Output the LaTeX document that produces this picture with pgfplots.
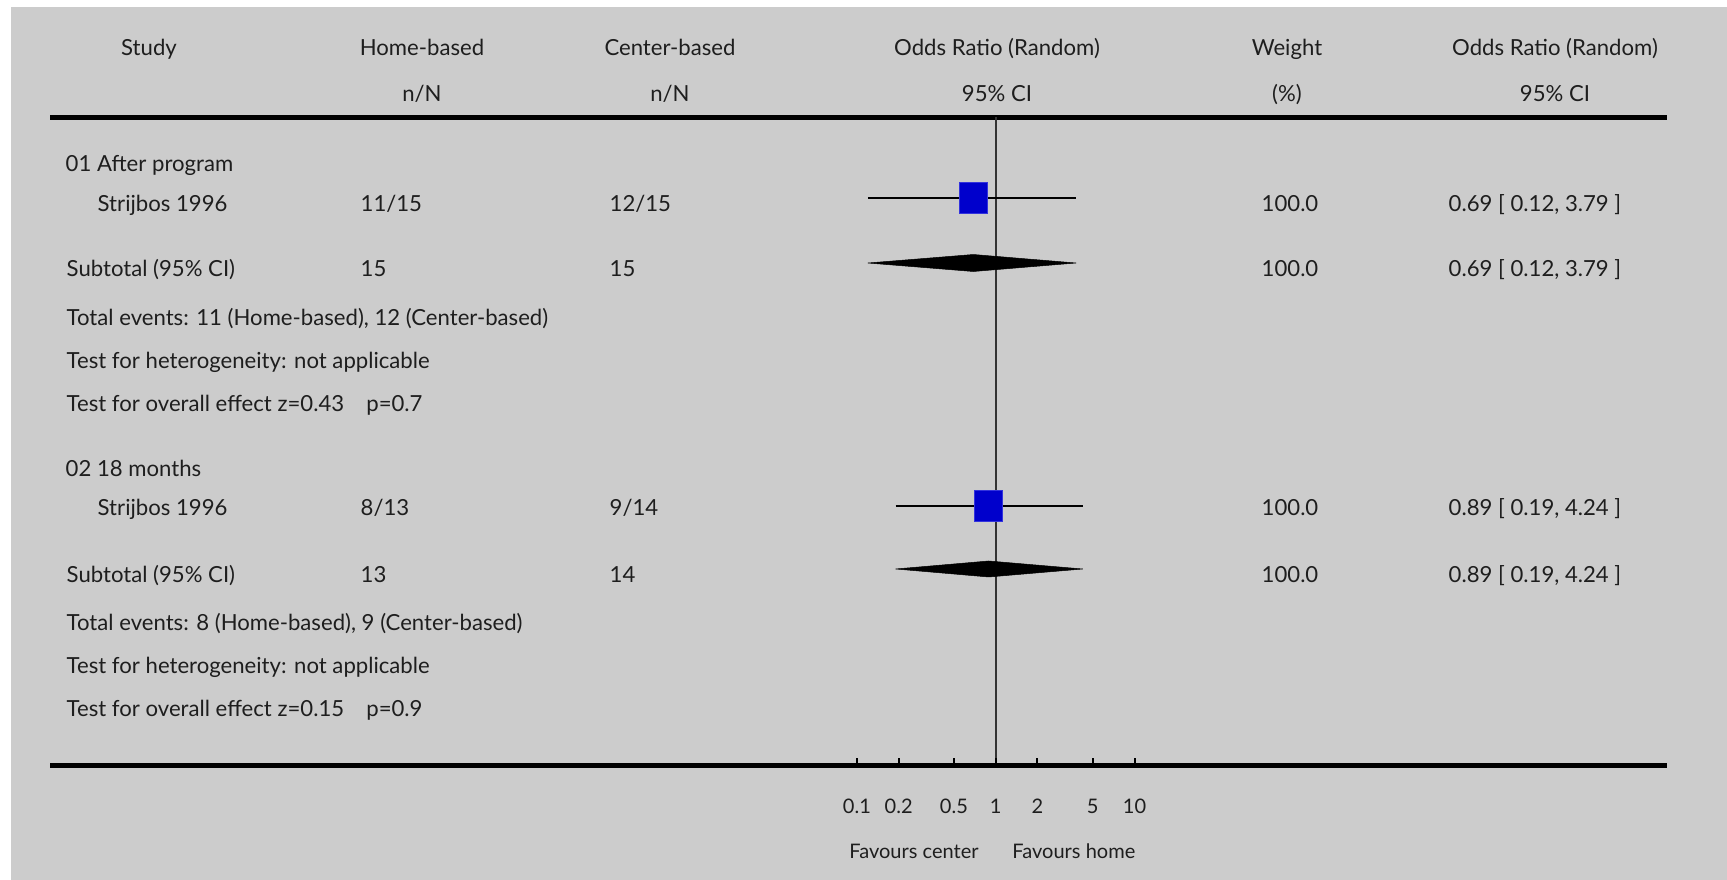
\documentclass[border=0pt]{standalone}
\usepackage{fontspec}
\setmainfont{Lato}
\usepackage{pgfplots}
\pgfplotsset{compat=1.18}
\definecolor{bg}{HTML}{CCCCCC}
\definecolor{sq}{HTML}{0000CC}
\definecolor{sqb}{HTML}{3333DD}
\definecolor{txt}{HTML}{1E1E1E}
\begin{document}
\begin{tikzpicture}[every node/.style={font=\fontsize{6.3pt}{7.5pt}\selectfont, text=txt, inner sep=0pt}]
% ---------- table axis in pixel units ----------
\begin{axis}[at={(0,0)}, anchor=south west, scale only axis,
  width=172.7mm, height=88mm, xmin=0, xmax=1727, ymin=0, ymax=880,
  y dir=reverse, hide axis, clip=false]
\fill[white] (axis cs:0,0) rectangle (axis cs:1727,880);
\fill[bg] (axis cs:11,7) rectangle (axis cs:1727,880);
\addplot[black, line width=0.5mm] coordinates {(50,117) (1667,117)};
\addplot[black, line width=0.5mm] coordinates {(50,766) (1667,766)};
% headers
\node[anchor=mid] at (axis cs:149,47) {Study};
\node[anchor=mid] at (axis cs:422,47) {Home-based};
\node[anchor=mid] at (axis cs:422,93) {n/N};
\node[anchor=mid] at (axis cs:670,47) {Center-based};
\node[anchor=mid] at (axis cs:670,93) {n/N};
\node[anchor=mid] at (axis cs:997,47) {Odds Ratio (Random)};
\node[anchor=mid] at (axis cs:997,93) {95\% CI};
\node[anchor=mid] at (axis cs:1287,47) {Weight};
\node[anchor=mid] at (axis cs:1287,93) {(\%)};
\node[anchor=mid] at (axis cs:1555,47) {Odds Ratio (Random)};
\node[anchor=mid] at (axis cs:1555,93) {95\% CI};
% group 1
\node[anchor=mid west] at (axis cs:65,163) {01 After program};
\node[anchor=mid west] at (axis cs:97,203) {Strijbos 1996};
\node[anchor=mid west] at (axis cs:360,203) {11/15};
\node[anchor=mid west] at (axis cs:609,203) {12/15};
\node[anchor=mid west] at (axis cs:1261,203) {100.0};
\node[anchor=mid west] at (axis cs:1448,203) {0.69 [ 0.12, 3.79 ]};
\node[anchor=mid west] at (axis cs:66,268) {Subtotal (95\% CI)};
\node[anchor=mid west] at (axis cs:360,268) {15};
\node[anchor=mid west] at (axis cs:609,268) {15};
\node[anchor=mid west] at (axis cs:1261,268) {100.0};
\node[anchor=mid west] at (axis cs:1448,268) {0.69 [ 0.12, 3.79 ]};
\node[anchor=mid west] at (axis cs:66,317) {Total events: 11 (Home-based), 12 (Center-based)};
\node[anchor=mid west] at (axis cs:66,360) {Test for heterogeneity: not applicable};
\node[anchor=mid west] at (axis cs:66,403) {Test for overall effect z=0.43\quad p=0.7};
% group 2
\node[anchor=mid west] at (axis cs:65,468) {02 18 months};
\node[anchor=mid west] at (axis cs:97,507) {Strijbos 1996};
\node[anchor=mid west] at (axis cs:360,507) {8/13};
\node[anchor=mid west] at (axis cs:609,507) {9/14};
\node[anchor=mid west] at (axis cs:1261,507) {100.0};
\node[anchor=mid west] at (axis cs:1448,507) {0.89 [ 0.19, 4.24 ]};
\node[anchor=mid west] at (axis cs:66,574) {Subtotal (95\% CI)};
\node[anchor=mid west] at (axis cs:360,574) {13};
\node[anchor=mid west] at (axis cs:609,574) {14};
\node[anchor=mid west] at (axis cs:1261,574) {100.0};
\node[anchor=mid west] at (axis cs:1448,574) {0.89 [ 0.19, 4.24 ]};
\node[anchor=mid west] at (axis cs:66,622) {Total events: 8 (Home-based), 9 (Center-based)};
\node[anchor=mid west] at (axis cs:66,665) {Test for heterogeneity: not applicable};
\node[anchor=mid west] at (axis cs:66,708) {Test for overall effect z=0.15\quad p=0.9};
\end{axis}
% ---------- forest axis (log) ----------
\begin{axis}[at={(85.69mm,0)}, anchor=south west, scale only axis,
  width=27.76mm, height=88mm, xmode=log, xmin=0.1, xmax=10, ymin=0, ymax=880,
  y dir=reverse, hide axis, clip=false]
\addplot[black!80, line width=0.18mm] coordinates {(1,117) (1,766)};
% ticks
\foreach \t in {0.1,0.2,0.5,1,2,5,10}{
  \edef\temp{\noexpand\addplot[black, line width=0.2mm] coordinates {(\t,766) (\t,758)};}
  \temp
}
\begin{scope}[every node/.style={font=\fontsize{5.7pt}{7pt}\selectfont, text=txt, inner sep=0pt}]
\node[anchor=mid] at (axis cs:0.1,805) {0.1};
\node[anchor=mid] at (axis cs:0.2,805) {0.2};
\node[anchor=mid] at (axis cs:0.5,805) {0.5};
\node[anchor=mid] at (axis cs:1,805) {1};
\node[anchor=mid] at (axis cs:2,805) {2};
\node[anchor=mid] at (axis cs:5,805) {5};
\node[anchor=mid] at (axis cs:10,805) {10};
\node[anchor=mid] at (axis cs:0.258,850) {Favours center};
\node[anchor=mid] at (axis cs:3.66,850) {Favours home};
\end{scope}
% study 1
\addplot[only marks, mark=square*, mark size=1.4mm, mark options={fill=sq, draw=sqb, line width=0.1mm, yscale=1.107}] coordinates {(0.69,198)};
\addplot[black, line width=0.13mm] coordinates {(0.12,198) (3.79,198)};
\addplot[fill=black, draw=black, line width=0.05mm] coordinates {(0.12,263) (0.69,254.5) (3.79,263) (0.69,271.5)} -- cycle;
% study 2
\addplot[only marks, mark=square*, mark size=1.4mm, mark options={fill=sq, draw=sqb, line width=0.1mm, yscale=1.107}] coordinates {(0.89,506)};
\addplot[black, line width=0.13mm] coordinates {(0.19,506) (4.24,506)};
\addplot[fill=black, draw=black, line width=0.05mm] coordinates {(0.19,569) (0.89,561) (4.24,569) (0.89,577)} -- cycle;
\end{axis}
\end{tikzpicture}
\end{document}
